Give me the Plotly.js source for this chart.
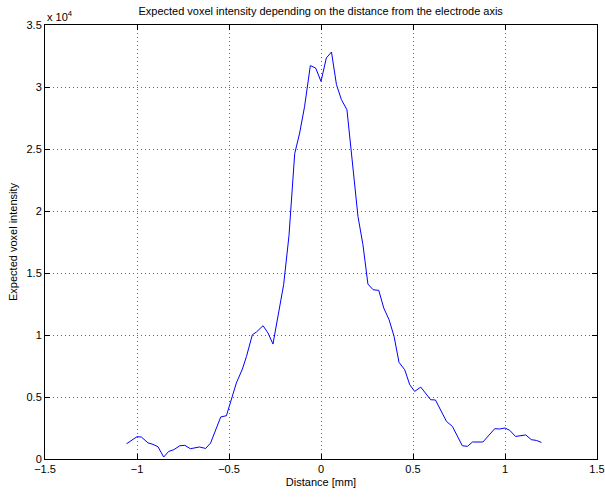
<!DOCTYPE html>
<html>
<head>
<meta charset="utf-8">
<script src="https://cdn.plot.ly/plotly-3.0.1.min.js"></script>
<style>html,body{margin:0;padding:0;background:#fff;}#chart{width:605px;height:497px;}</style>
</head>
<body>
<div id="chart"></div>
<script>
const distance = [-1.057,-1.0,-0.976,-0.94,-0.913,-0.886,-0.855,-0.828,-0.80,-0.767,-0.74,-0.71,-0.66,-0.627,-0.60,-0.572,-0.545,-0.514,-0.487,-0.46,-0.427,-0.405,-0.373,-0.351,-0.315,-0.288,-0.261,-0.232,-0.203,-0.174,-0.143,-0.116,-0.089,-0.058,-0.029,0.0,0.029,0.057,0.084,0.111,0.141,0.201,0.228,0.255,0.283,0.314,0.341,0.37,0.397,0.424,0.455,0.482,0.509,0.542,0.569,0.596,0.622,0.649,0.682,0.714,0.74,0.768,0.796,0.823,0.88,0.908,0.944,0.971,1.0,1.026,1.057,1.113,1.143,1.17,1.198];
const intensity = [1230,1800,1770,1300,1180,990,160,610,750,1070,1100,830,970,850,1290,2360,3390,3490,4780,6130,7260,8270,10020,10240,10750,10160,9270,11600,14060,18000,24620,26290,28440,31720,31530,30450,32340,32820,30190,28980,28170,19560,17280,14110,13650,13600,12180,11230,9890,7790,7200,6000,5450,5800,5320,4780,4760,3980,3030,2630,1880,1070,1020,1370,1370,1880,2440,2420,2500,2310,1820,1940,1560,1500,1340];
const yTickVals = [0,5000,10000,15000,20000,25000,30000,35000];
const yTickText = ['0','0.5','1','1.5','2','2.5','3','3.5'];
const xTickVals = [-1.5,-1,-0.5,0,0.5,1,1.5];

const font = {family: 'Liberation Sans, Arial, Helvetica, sans-serif', size: 11, color: '#000'};
const axisCommon = {
  showline: true, linecolor: '#000', linewidth: 1, mirror: 'ticks',
  ticks: 'inside', ticklen: 5, tickcolor: '#000', tickwidth: 1,
  showgrid: true, gridcolor: '#666', griddash: '1px,3px', gridwidth: 1,
  zeroline: false, tickfont: font
};
Plotly.newPlot('chart', [{
  x: distance, y: intensity, type: 'scatter', mode: 'lines',
  line: {color: '#0000ff', width: 1}
}], {
  width: 605, height: 497,
  margin: {l: 45, r: 8, t: 25, b: 38},
  paper_bgcolor: '#fff', plot_bgcolor: '#fff',
  font: font,
  showlegend: false,
  title: {text: 'Expected voxel intensity depending on the distance from the electrode axis', font: font, x: 0.53, xanchor: 'center', y: 0.977, yanchor: 'middle'},
  xaxis: Object.assign({}, axisCommon, {range: [-1.5, 1.5], tickvals: xTickVals, ticktext: ['−1.5','−1','−0.5','0','0.5','1','1.5'], title: {text: 'Distance [mm]', font: font, standoff: 4}}),
  yaxis: Object.assign({}, axisCommon, {range: [0, 35000], tickvals: yTickVals, ticktext: yTickText, title: {text: 'Expected voxel intensity', font: font, standoff: 6}}),
  annotations: [{text: 'x 10<sup>4</sup>', xref: 'paper', yref: 'paper', x: 0, y: 1, xanchor: 'left', yanchor: 'bottom', showarrow: false, font: font, yshift: 0}]
}, {displayModeBar: false, staticPlot: true});
</script>
</body>
</html>
